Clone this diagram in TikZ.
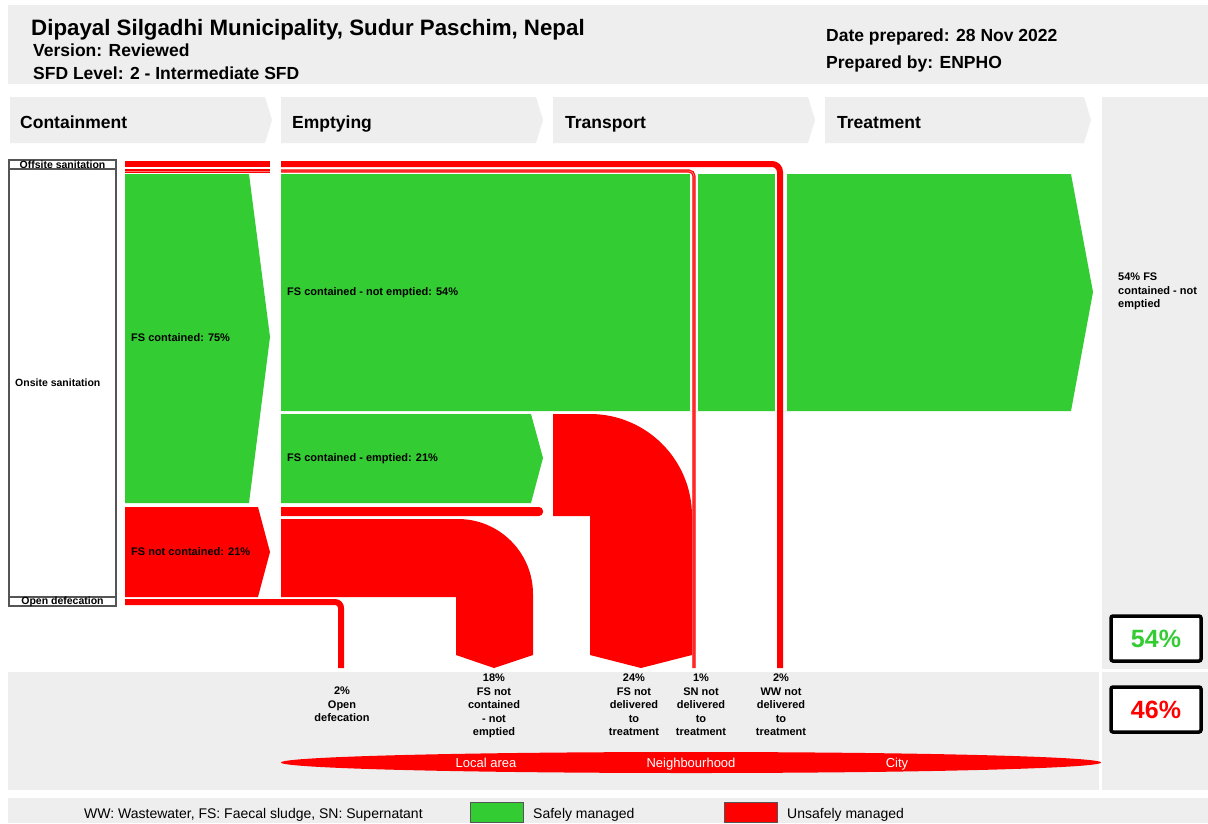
\documentclass[tikz,border=0pt]{standalone}
\usepackage{fontspec}
\setmainfont{Liberation Sans}
\usetikzlibrary{shapes.geometric}
\definecolor{sfdgreen}{HTML}{33CC33}
\definecolor{sfdred}{HTML}{FF0000}
\definecolor{sfdgray}{HTML}{EEEEEE}
\definecolor{boxgray}{HTML}{555555}
\begin{document}
\begin{tikzpicture}[x=1pt,y=-1pt,
  titletxt/.style={anchor=base west,inner sep=0,font=\bfseries\fontsize{22.3}{26}\selectfont},
  hdr/.style={anchor=base west,inner sep=0,font=\bfseries\fontsize{17.5}{20}\selectfont},
  stagetxt/.style={anchor=base west,inner sep=0,font=\bfseries\fontsize{17.5}{20}\selectfont},
  flowlbl/.style={anchor=base west,inner sep=0,font=\bfseries\fontsize{11}{13.5}\selectfont},
  sidelbl/.style={inner sep=0,font=\bfseries\fontsize{10.5}{12}\selectfont},
  botlbl/.style={anchor=north,align=center,inner sep=0,font=\bfseries\fontsize{11}{13.5}\selectfont},
  lenstxt/.style={anchor=base,inner sep=0,text=white,font=\fontsize{13}{15}\selectfont},
  legtxt/.style={anchor=base west,inner sep=0,font=\fontsize{14}{16}\selectfont},
  legbox/.style={draw=boxgray,line width=1,minimum width=53,minimum height=20,inner sep=0},
  pctbox/.style={draw=black,line width=3.5,rounded corners=2,fill=white,minimum width=90,minimum height=45,inner sep=0,font=\bfseries\fontsize{25}{28}\selectfont},
  lblbox/.style={draw=boxgray,line width=1.3},
  stagebox/.style={fill=sfdgray},
  thickflow/.style={draw=sfdred,line width=6},
  thinflow/.style={draw=sfdred,line width=1.1,double=sfdred!55,double distance=0.9}
]
\useasboundingbox (0,0) rectangle (1208,823);
\fill[white] (0,0) rectangle (1208,823);

% header
\fill[sfdgray] (8,5) rectangle (1208,84);
\node[titletxt] (title) at (31,35) {Dipayal Silgadhi Municipality, Sudur Paschim, Nepal};
\node[hdr] (ver) at (33,56.5) {Version: Reviewed};
\node[hdr] (lvl) at (33,79.5) {SFD Level: 2 - Intermediate SFD};
\node[hdr] (date) at (826,41.5) {Date prepared: 28 Nov 2022};
\node[hdr] (prep) at (826,68.5) {Prepared by: ENPHO};

% stage chevrons
\fill[stagebox] (10,97) -- (265,97) -- (272,120) -- (265,143) -- (10,143) -- cycle;
\fill[stagebox] (281,97) -- (536,97) -- (543,120) -- (536,143) -- (281,143) -- cycle;
\fill[stagebox] (553,97) -- (808,97) -- (815,120) -- (808,143) -- (553,143) -- cycle;
\fill[stagebox] (825,97) -- (1084,97) -- (1091,120) -- (1084,143) -- (825,143) -- cycle;
\node[stagetxt] (s1) at (20,128.5) {Containment};
\node[stagetxt] (s2) at (292,128.5) {Emptying};
\node[stagetxt] (s3) at (565,128.5) {Transport};
\node[stagetxt] (s4) at (837,128.5) {Treatment};

% grey panels
\fill[sfdgray] (1102,97) rectangle (1208,669);
\fill[sfdgray] (1102,672) rectangle (1208,790);
\fill[sfdgray] (8,672) rectangle (1099,790);
\fill[sfdgray] (8,798) rectangle (1208,823);

% left label boxes
\draw[lblbox] (9,160) rectangle (116,169);
\draw[lblbox] (9,169) rectangle (116,597);
\draw[lblbox] (9,597) rectangle (116,606);
\node[sidelbl] (off) at (62.5,165) {Offsite sanitation};
\node[sidelbl,anchor=west] (on) at (15,383) {Onsite sanitation};
\node[sidelbl] (od) at (62.5,602) {Open defecation};

% containment
\fill[sfdgreen] (125,174) -- (249,174) -- (270,337) -- (249,503) -- (125,503) -- cycle;
\fill[sfdred] (125,507) -- (258,507) -- (270,552) -- (258,597) -- (125,597) -- cycle;
\node[flowlbl] (c75) at (131,341) {FS contained: 75\%};
\node[flowlbl] (nc21) at (131,555) {FS not contained: 21\%};

% emptying / transport / treatment
\fill[sfdgreen] (281,174) -- (1071,174) -- (1093,292) -- (1071,411) -- (281,411) -- cycle;
\fill[sfdgreen] (281,414) -- (531,414) -- (543,458) -- (531,503) -- (281,503) -- cycle;
\fill[sfdred] (281,507) [rounded corners=4] -- (543,507) -- (543,516) [sharp corners] -- (281,516) -- cycle;
\fill[sfdred] (281,519) -- (458,519) .. controls (499.4,519) and (533,552.6) .. (533,594)
  -- (533,655) -- (494,668) -- (456,655) -- (456,597) -- (281,597) -- cycle;
\fill[sfdred] (553,414) -- (590,414) .. controls (646.3,414) and (692,459.7) .. (692,516)
  -- (692,655) -- (641,668) -- (590,655) -- (590,516) -- (553,516) -- cycle;
\node[flowlbl] (ne54) at (287,295) {FS contained - not emptied: 54\%};
\node[flowlbl] (e21) at (287,461) {FS contained - emptied: 21\%};

% white gaps where pipes cross the green band
\fill[white] (690,174) rectangle (698,411);
\fill[white] (775,174) rectangle (787,411);

% pipes
\coordinate (ww0) at (125,164);
\coordinate (ww1) at (270,164);
\coordinate (ww2) at (281,164);
\coordinate (wwc) at (780,164);
\coordinate (wwe) at (780,668);
\coordinate (sn0) at (125,171);
\coordinate (sn1) at (270,171);
\coordinate (sn2) at (281,171);
\coordinate (snc) at (694,171);
\coordinate (sne) at (694,668);
\coordinate (od0) at (125,602);
\coordinate (odc) at (341,602);
\coordinate (ode) at (341,668);
\draw[thickflow] (ww0) -- (ww1);
\draw[thinflow] (sn0) -- (sn1);
\draw[thickflow,rounded corners=8] (ww2) -- (wwc) -- (wwe);
\draw[thinflow,rounded corners=5] (sn2) -- (snc) -- (sne);
\draw[thickflow,rounded corners=6] (od0) -- (odc) -- (ode);

% bottom labels
\node[botlbl] (b1) at (342,687) {2\%\\Open\\defecation};
\node[botlbl] (b2) at (494,674) {18\%\\FS not\\contained\\- not\\emptied};
\node[botlbl] (b3) at (634,674) {24\%\\FS not\\delivered\\to\\treatment};
\node[botlbl] (b4) at (701,674) {1\%\\SN not\\delivered\\to\\treatment};
\node[botlbl] (b5) at (781,674) {2\%\\WW not\\delivered\\to\\treatment};

% lens
\fill[sfdred] (691,762.5) ellipse [x radius=410, y radius=10.5];
\node[lenstxt] (la) at (486,767.5) {Local area};
\node[lenstxt] (nb) at (691,767.5) {Neighbourhood};
\node[lenstxt] (ct) at (897,767.5) {City};

% right column
\node[flowlbl,anchor=north west,align=left] (rtxt) at (1118,273) {54\% FS\\contained - not\\emptied};
\node[pctbox,text=sfdgreen] (safe) at (1156,638.5) {54\%};
\node[pctbox,text=sfdred] (unsafe) at (1156,709.5) {46\%};

% legend
\node[legtxt] (abbr) at (84,818) {WW: Wastewater, FS: Faecal sludge, SN: Supernatant};
\node[legbox,fill=sfdgreen] (lg) at (496.5,812) {};
\node[legtxt] (lgt) at (533,818) {Safely managed};
\node[legbox,fill=sfdred] (lr) at (750.5,812) {};
\node[legtxt] (lrt) at (787,818) {Unsafely managed};
\end{tikzpicture}
\end{document}
